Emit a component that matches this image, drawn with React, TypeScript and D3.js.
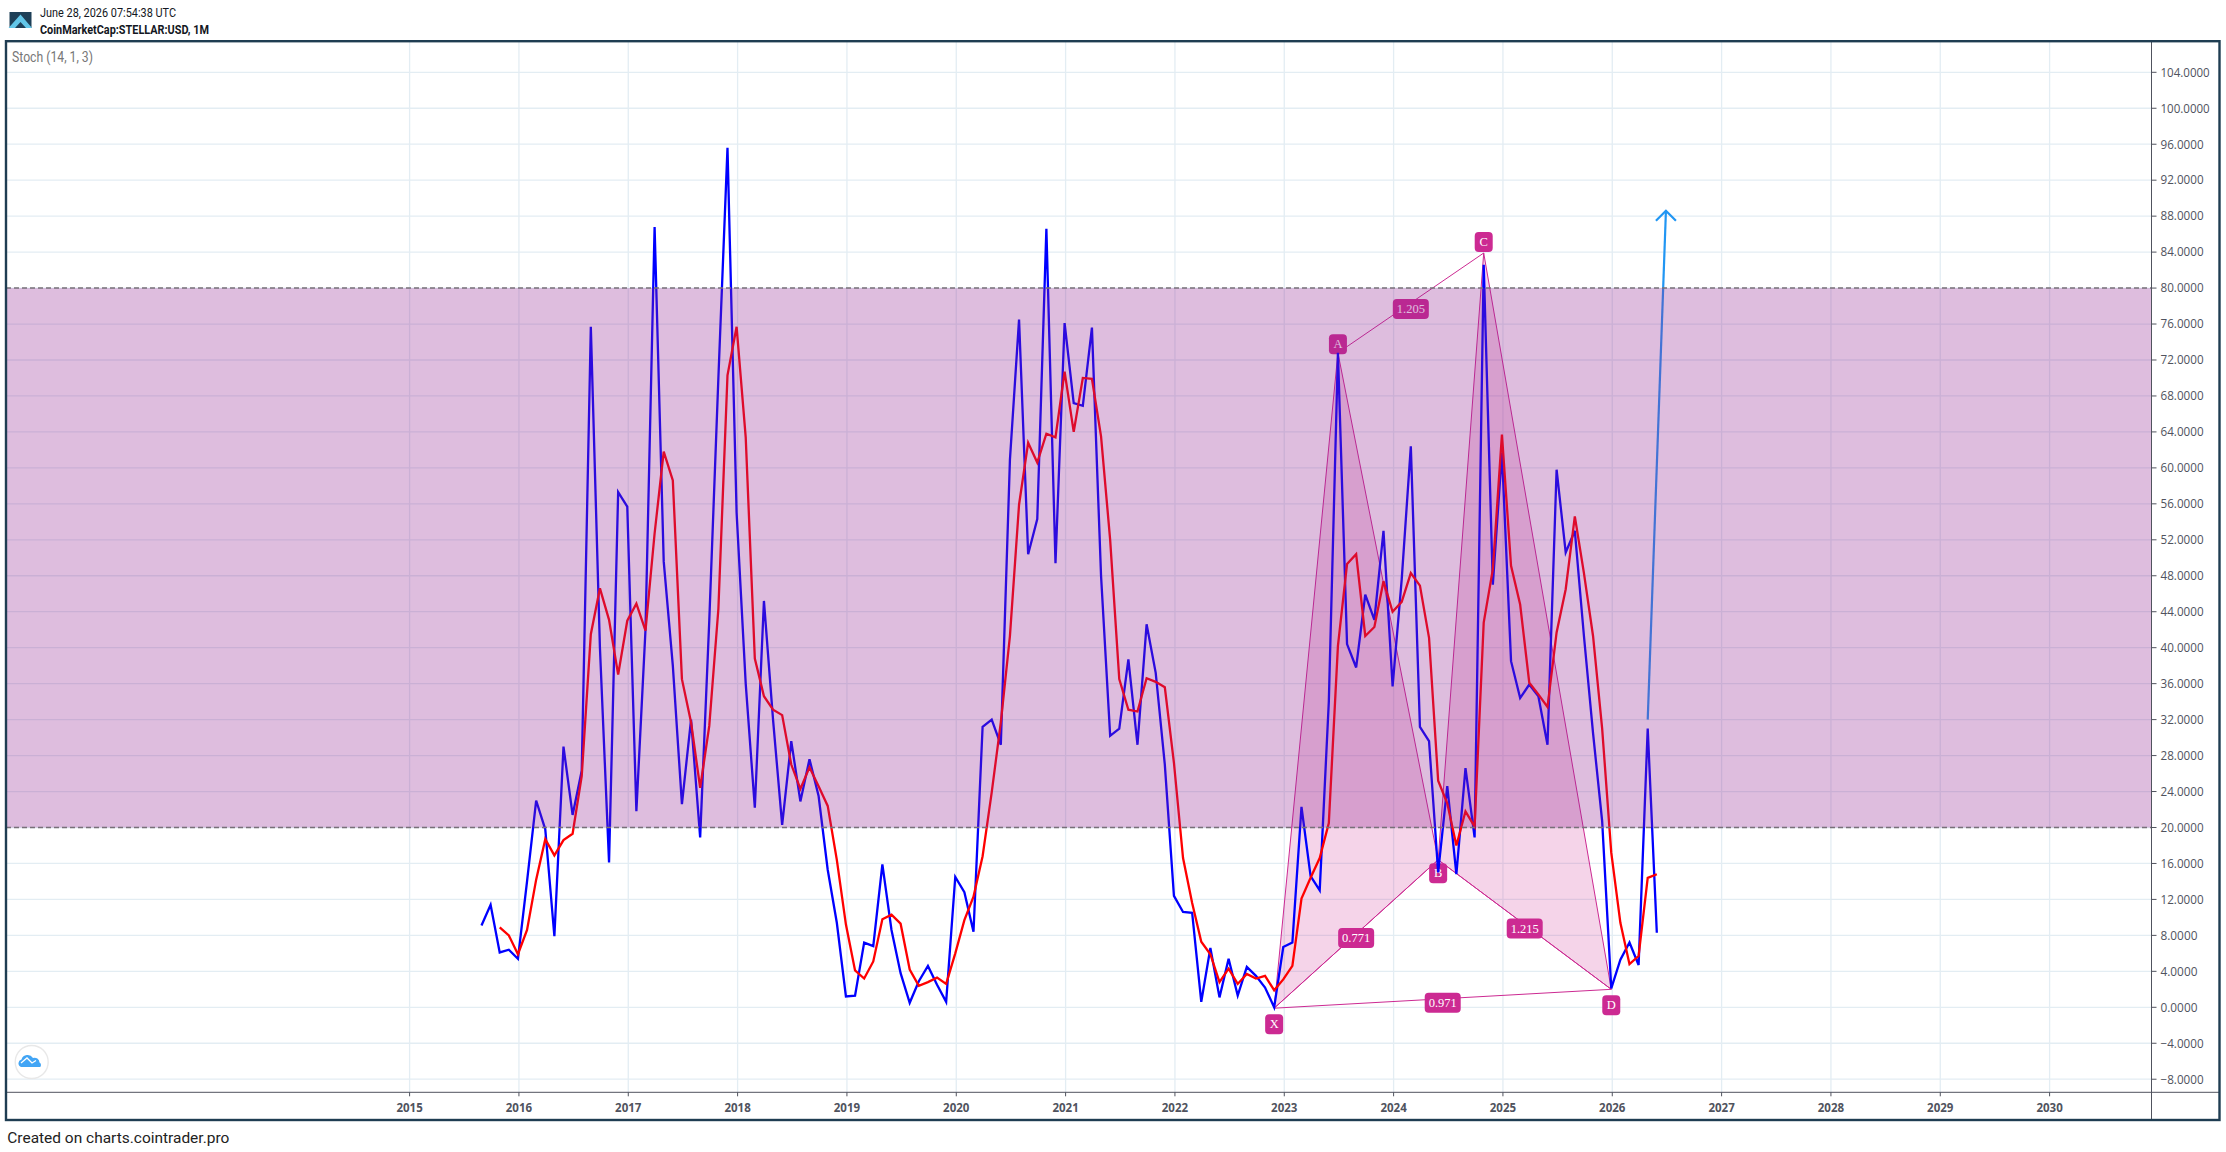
import React from "react";
import * as d3 from "d3";

// Monthly stoch values. k starts Sep 2015, d starts Nov 2015.
const kStart = 8;
const kValues = [
  9.1, 11.4, 6.1, 6.4,
  5.4, 14, 23.0, 19.8, 7.9, 29.0, 21.4, 26.3, 75.7, 40, 16.1, 57.3,
  55.7, 21.8, 42, 86.8, 49.6, 38, 22.6, 32.0, 18.9, 43, 70, 95.6,
  55, 36, 22.2, 45.2, 32, 20.3, 29.6, 22.9, 27.6, 23.5, 15.3, 9.4,
  1.2, 1.3, 7.2, 6.8, 15.9, 8.6, 3.8, 0.5, 2.9, 4.6, 2.5, 0.6,
  14.5, 12.8, 8.4, 31.2, 32, 29.2, 60.9, 76.5, 50.4, 54.3, 86.6, 49.4,
  76.1, 67.2, 66.9, 75.6, 48, 30.2, 31, 38.7, 29.2, 42.6, 37.2, 27,
  12.4, 10.6, 10.5, 0.6, 6.6, 1.1, 5.4, 1.3, 4.5, 3.5, 2.2, 0,
  6.7, 7.2, 22.3, 14.6, 13, 34, 72.8, 40.4, 37.8, 45.9, 43.1, 53,
  35.7, 47.6, 62.4, 31.2, 29.6, 15, 24.6, 14.8, 26.6, 18.9, 82.6, 47,
  61.7, 38.5, 34.4, 35.9, 34.6, 29.2, 59.8, 50.6, 53, 41.3, 30.5, 20.7,
  2.1, 5.3, 7.2, 4.7, 31, 8.3,
];
const dStart = 10;
const dValues = [
  8.9, 8.0,
  5.9, 8.6, 14.2, 18.7, 16.9, 18.6, 19.3, 25.7, 41.5, 46.6, 43.1, 37,
  43, 44.9, 41.9, 52.7, 61.8, 58.6, 36.5, 31.7, 24.4, 31.3, 44.3, 70.3,
  75.7, 63.4, 38.8, 34.6, 33.1, 32.5, 27, 24.3, 26.7, 24.6, 22.4, 16.4,
  9.2, 4.1, 3.2, 5.1, 9.8, 10.3, 9.3, 4.2, 2.4, 2.8, 3.3, 2.6,
  6, 9.7, 12.3, 16.8, 23.9, 31.7, 41.3, 55.9, 62.8, 60.6, 63.8, 63.4,
  70.7, 64, 70, 69.9, 63.5, 52, 36.5, 33.1, 32.9, 36.6, 36.2, 35.6,
  27.2, 16.6, 11.6, 7.3, 5.9, 2.8, 4.3, 2.6, 3.7, 3.2, 3.5, 1.9,
  3.1, 4.6, 12.1, 14.4, 16.6, 20.5, 40.2, 49.3, 50.4, 41.3, 42.3, 47.4,
  44, 45.1, 48.3, 46.9, 41.1, 25.2, 22.7, 18, 21.8, 20.1, 42.8, 48.7,
  63.7, 49.1, 44.8, 36.1, 34.8, 33.4, 41.7, 46.5, 54.6, 48.3, 41.3, 31,
  17.2, 9.4, 4.8, 5.7, 14.4, 14.8,
];

const years = d3.range(2015, 2031);
const yTicks = d3.range(-8, 105, 4);
const bandLevels = [20, 80];

// XABCD pattern: month index since Jan 2015, value
const patternNames = ["X", "A", "B", "C", "D"];
const patternMonths = [95, 102, 113, 118, 132];
const patternValues = [-0.1, 72.8, 16.4, 83.9, 2.0];
const ratioLabels = ["0.771", "1.205", "1.215", "0.971"];
const ratioPairs = [[0, 2], [1, 3], [2, 4], [0, 4]];

const arrowMonths = [136, 138];
const arrowValues = [32, 88.6];

const x = d3.scaleLinear().domain([0, 180]).range([408.6, 2048.6]);
const y = d3.scaleLinear().domain([0, 104]).range([1007.3, 72.3]);
const fmt = d3.format(".4f");

const left = 6;
const right = 2151.5;
const axisY = 1092.3;
const bottom = 1120;

const seriesPath = (vals: number[], start: number) =>
  d3.line<number>().x((_, i) => x(start + i)).y((d) => y(d))(vals) as string;

const pt = (i: number) => [x(patternMonths[i]), y(patternValues[i])];
const tri = (a: number, b: number, c: number) => d3.line()([pt(a), pt(b), pt(c)] as any) + "Z";

const arrowTip = [x(arrowMonths[1]), y(arrowValues[1])];

const pink = "#cc2a92";
// where each letter box starts relative to its point
const letterOffsets = [6, -18.5, 3.5, -21, 6];

export default function App() {
  const bandTop = y(bandLevels[1]);
  const bandBottom = y(bandLevels[0]);
  return (
    <svg width={2226} height={1152} style={{ position: "absolute", left: 0, top: 0, display: "block", background: "#fff" }}>
      {/* grid */}
      <g stroke="#e3edf3" strokeWidth={1.3}>
        {yTicks.map((t) => (
          <line key={t} x1={left} x2={right} y1={y(t)} y2={y(t)} />
        ))}
        {years.map((yr) => (
          <line key={yr} x1={x((yr - 2015) * 12) + 1} x2={x((yr - 2015) * 12) + 1} y1={42} y2={axisY} />
        ))}
      </g>

      {/* pattern */}
      <path d={tri(0, 1, 2)} fill={pink} fillOpacity={0.2} stroke={pink} strokeWidth={1} />
      <path d={tri(2, 3, 4)} fill={pink} fillOpacity={0.2} stroke={pink} strokeWidth={1} />
      {ratioPairs.map(([a, b]) => (
        <line key={`${a}${b}`} x1={pt(a)[0]} y1={pt(a)[1]} x2={pt(b)[0]} y2={pt(b)[1]} stroke={pink} strokeWidth={1} />
      ))}
      {patternNames.map((n, i) => {
        const [px, py] = pt(i);
        const by = py + letterOffsets[i];
        return (
          <g key={n}>
            <rect x={px - 9} y={by} width={18} height={20} rx={4} fill={pink} />
            <text x={px} y={by + 14} textAnchor="middle" fontFamily="'Liberation Serif', serif" fontSize={12.5} fill="#fff">
              {n}
            </text>
          </g>
        );
      })}
      {ratioPairs.map(([a, b], i) => {
        const cx = (pt(a)[0] + pt(b)[0]) / 2;
        const cy = (pt(a)[1] + pt(b)[1]) / 2 + (i === 1 ? 6 : 4);
        return (
          <g key={ratioLabels[i]}>
            <rect x={cx - 18} y={cy - 10} width={36} height={20} rx={4} fill={pink} />
            <text x={cx} y={cy + 4} textAnchor="middle" fontFamily="'Liberation Serif', serif" fontSize={12.5} fill="#fff">
              {ratioLabels[i]}
            </text>
          </g>
        );
      })}

      {/* stoch lines */}
      <path d={seriesPath(kValues, kStart)} fill="none" stroke="#0000ff" strokeWidth={2.3} strokeLinejoin="miter" />
      <path d={seriesPath(dValues, dStart)} fill="none" stroke="#ff0000" strokeWidth={2.3} strokeLinejoin="miter" />

      {/* projection arrow */}
      <g fill="none" stroke="#2196f3" strokeWidth={2.2}>
        <line x1={x(arrowMonths[0])} y1={y(arrowValues[0])} x2={arrowTip[0]} y2={arrowTip[1]} />
        <polyline points={`${arrowTip[0] - 10},${arrowTip[1] + 10} ${arrowTip[0]},${arrowTip[1]} ${arrowTip[0] + 10},${arrowTip[1] + 10}`} />
      </g>

      {/* overbought/oversold band sits on top of everything */}
      <rect x={left} width={right - left} y={bandTop} height={bandBottom - bandTop} fill="rgb(145,38,145)" fillOpacity={0.3} />
      {bandLevels.map((l) => (
        <line key={l} x1={left} x2={right} y1={y(l)} y2={y(l)} stroke="#787078" strokeWidth={1.5} strokeDasharray="5 3" />
      ))}

      {/* axes */}
      <g stroke="#50535e" strokeWidth={1}>
        <line x1={right} x2={right} y1={41} y2={bottom} />
        <line x1={left} x2={2220} y1={axisY} y2={axisY} />
        {yTicks.map((t) => (
          <line key={t} x1={right} x2={right + 5} y1={y(t)} y2={y(t)} />
        ))}
        {years.map((yr) => (
          <line key={yr} x1={x((yr - 2015) * 12) + 1} x2={x((yr - 2015) * 12) + 1} y1={axisY} y2={axisY + 4} />
        ))}
      </g>
      <g fontFamily="'Open Sans', sans-serif" fontSize={12} fill="#50535e">
        {yTicks.map((t) => (
          <text key={t} x={2160.5} y={y(t) + 4.3} textLength={fmt(t).length * 6.15} lengthAdjust="spacingAndGlyphs">
            {fmt(t)}
          </text>
        ))}
        {years.map((yr) => (
          <text key={yr} x={x((yr - 2015) * 12) + 1} y={1112} textAnchor="middle" fontWeight={700} fontSize={11.5}>
            {yr}
          </text>
        ))}
      </g>

      {/* frame */}
      <rect x={6} y={41.2} width={2213.5} height={1078.8} fill="none" stroke="#1f3d52" strokeWidth={2.4} />

      {/* header */}
      <g>
        <rect x={9.5} y={12} width={22} height={16} fill="#1d3f57" />
        <path d="M8.5 28 L20.5 14.5 L32 28 L26 28 L20.5 22 L15 28 Z" fill="#62c6e8" />
      </g>
      <text x={40} y={17} fontFamily="Roboto, sans-serif" fontSize={12} fill="#131722" textLength={136} lengthAdjust="spacingAndGlyphs">
        June 28, 2026 07:54:38 UTC
      </text>
      <text x={40} y={33.5} fontFamily="Roboto, sans-serif" fontSize={12} fontWeight={700} fill="#131722" textLength={169} lengthAdjust="spacingAndGlyphs">
        CoinMarketCap:STELLAR:USD, 1M
      </text>
      <text x={12} y={62} fontFamily="Roboto, sans-serif" fontSize={14} fill="#777" textLength={81} lengthAdjust="spacingAndGlyphs">
        Stoch (14, 1, 3)
      </text>

      {/* watermark */}
      <circle cx={31.7} cy={1062} r={16.5} fill="#fff" stroke="#e8e8e8" strokeWidth={1.4} />
      <path
        d="M21 1067 a4 4 0 0 1 0.5 -7.6 a6.5 6.5 0 0 1 11.5 -1.5 a5 5 0 0 1 6.5 4.6 a3 3 0 0 1 0.8 4.5 Z"
        fill="#42a5f5"
      />
      <polyline points="21,1063 27,1058 32,1063 36,1060.5" fill="none" stroke="#fff" strokeWidth={1.3} />

      <text x={7.3} y={1143} fontFamily="Roboto, sans-serif" fontSize={15.5} fill="#222" textLength={222} lengthAdjust="spacingAndGlyphs">
        Created on charts.cointrader.pro
      </text>
    </svg>
  );
}
